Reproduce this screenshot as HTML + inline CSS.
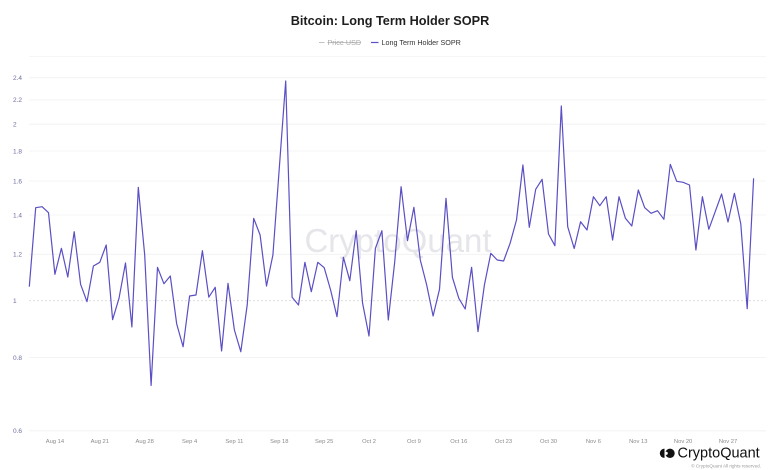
<!DOCTYPE html>
<html>
<head>
<meta charset="utf-8">
<style>
html,body{margin:0;padding:0;background:#fff;}
body{width:780px;height:470px;overflow:hidden;}
svg{display:block;}
text{font-family:"Liberation Sans",Arial,sans-serif;}
</style>
</head>
<body>
<svg width="780" height="470" viewBox="0 0 780 470" xmlns="http://www.w3.org/2000/svg">
  <rect x="0" y="0" width="780" height="470" fill="#ffffff"/>
  <!-- title -->
  <text x="390" y="25" text-anchor="middle" font-size="12.7" font-weight="bold" fill="#1e1e1e">Bitcoin: Long Term Holder SOPR</text>
  <!-- legend -->
  <line x1="319" y1="42.5" x2="324.5" y2="42.5" stroke="#bbbbbb" stroke-width="0.9"/>
  <text x="327.5" y="45" font-size="7.2" fill="#a8a8a8" text-decoration="line-through">Price USD</text>
  <line x1="371" y1="42.5" x2="378.5" y2="42.5" stroke="#5a4fc4" stroke-width="1.2"/>
  <text x="381.5" y="45" font-size="7.2" fill="#333333">Long Term Holder SOPR</text>
  <!-- top boundary -->
  <line x1="29" y1="56.5" x2="766" y2="56.5" stroke="#f3f3f3" stroke-width="0.8"/>
  <!-- grid -->
  <g stroke="#f0f0f0" stroke-width="0.8">
    <line x1="29" y1="77.7" x2="766" y2="77.7"/>
    <line x1="29" y1="99.9" x2="766" y2="99.9"/>
    <line x1="29" y1="124.2" x2="766" y2="124.2"/>
    <line x1="29" y1="151" x2="766" y2="151"/>
    <line x1="29" y1="181" x2="766" y2="181"/>
    <line x1="29" y1="215" x2="766" y2="215"/>
    <line x1="29" y1="254.3" x2="766" y2="254.3"/>
    <line x1="29" y1="357.5" x2="766" y2="357.5"/>
    <line x1="29" y1="430.8" x2="766" y2="430.8"/>
  </g>
  <line x1="29" y1="300.7" x2="766" y2="300.7" stroke="#d8d8d8" stroke-width="0.8" stroke-dasharray="2,2"/>
  <!-- y labels -->
  <g font-size="6.5" fill="#6e6ea0">
    <text x="13" y="80">2.4</text>
    <text x="13" y="102.2">2.2</text>
    <text x="13" y="126.5">2</text>
    <text x="13" y="153.3">1.8</text>
    <text x="13" y="183.3">1.6</text>
    <text x="13" y="217.3">1.4</text>
    <text x="13" y="256.6">1.2</text>
    <text x="13" y="303">1</text>
    <text x="13" y="359.8">0.8</text>
    <text x="13" y="433.1">0.6</text>
  </g>
  <!-- x labels -->
  <g font-size="5.8" fill="#8a8a8a" text-anchor="middle">
    <text x="54.9" y="443">Aug 14</text>
    <text x="99.8" y="443">Aug 21</text>
    <text x="144.7" y="443">Aug 28</text>
    <text x="189.6" y="443">Sep 4</text>
    <text x="234.4" y="443">Sep 11</text>
    <text x="279.3" y="443">Sep 18</text>
    <text x="324.2" y="443">Sep 25</text>
    <text x="369.0" y="443">Oct 2</text>
    <text x="413.9" y="443">Oct 9</text>
    <text x="458.8" y="443">Oct 16</text>
    <text x="503.6" y="443">Oct 23</text>
    <text x="548.5" y="443">Oct 30</text>
    <text x="593.4" y="443">Nov 6</text>
    <text x="638.3" y="443">Nov 13</text>
    <text x="683.1" y="443">Nov 20</text>
    <text x="728.0" y="443">Nov 27</text>
  </g>
  <!-- watermark -->
  <text x="398" y="252" text-anchor="middle" font-size="33" fill="#e5e5ea">CryptoQuant</text>
  <!-- series -->
  <polyline fill="none" stroke="#5a4fc4" stroke-width="1.2" stroke-linejoin="round" points="
29.3,286.7 35.7,207.7 42.1,206.7 48.5,212.7 54.9,274.3 61.4,248.3 67.8,277 74.2,231.7 80.6,284.3 87.0,301.7
93.4,266 99.8,262.3 106.2,245 112.6,319.7 119.0,298.3 125.5,263 131.9,327 138.3,187.3 144.7,255 151.1,385.5
157.5,267.3 163.9,283.7 170.3,276 176.7,324 183.1,346.7 189.6,296 196.0,295 202.4,250.7 208.8,297.2 215.2,287.3
221.6,351 228.0,283.3 234.4,330 240.8,351.7 247.2,305 253.7,218.3 260.1,235 266.5,286 272.9,255 279.3,168
285.7,81 292.1,297.3 298.5,305 304.9,262.3 311.3,291.7 317.8,262.3 324.2,267.7 330.6,290 337.0,316.7 343.4,257.3
349.8,280.7 356.2,230.7 362.6,303.3 369.0,336 375.4,248.3 381.9,230.7 388.3,320 394.7,262 401.1,186.7 407.5,240.7
413.9,207.3 420.3,260 426.7,285 433.1,316 439.5,289.3 446.0,198.3 452.4,277.3 458.8,298.3 465.2,309 471.6,267.3
478.0,331.7 484.4,285 490.8,253.3 497.2,260 503.6,261 510.1,243.3 516.5,220 522.9,165 529.3,227.3 535.7,189.3
542.1,179.3 548.5,234 554.9,245.7 561.3,106 567.7,226.7 574.2,248.5 580.6,221.7 587.0,230 593.4,196.7 599.8,205.7
606.2,196.7 612.6,240 619.0,196.7 625.4,218.3 631.8,226 638.3,190 644.7,207.7 651.1,213.3 657.5,210.7 663.9,219.3
670.3,164.3 676.7,181.3 683.1,182.3 689.5,185 695.9,250 702.4,196.7 708.8,229.3 715.2,211.7 721.6,194 728.0,222
734.4,193.3 740.8,224 747.2,308.7 753.6,178.3"/>
  <!-- logo -->
  <path d="M664.5,448.6 A4.7,4.7 0 0 0 664.5,458 Z" fill="#111"/>
  <path d="M666,449.6 A2.2,2.2 0 0 1 666,456.9 L666,458 Z" fill="#111" opacity="0"/>
  <circle cx="670" cy="453.3" r="4.7" fill="#111"/>
  <circle cx="666.2" cy="453.3" r="1.6" fill="#fff"/>
  <text x="677.5" y="457.6" font-size="14.5" fill="#111">CryptoQuant</text>
  <text x="761" y="467.5" text-anchor="end" font-size="4.6" fill="#9a9a9a">© CryptoQuant All rights reserved.</text>
</svg>
</body>
</html>
